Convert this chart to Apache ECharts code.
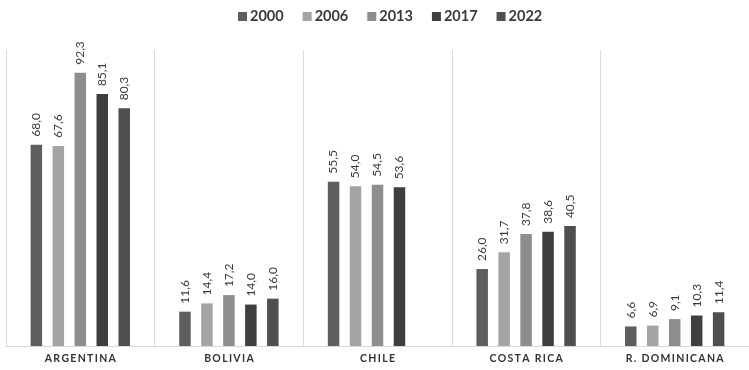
<!DOCTYPE html>
<html>
<head>
<meta charset="utf-8">
<script src="https://cdn.jsdelivr.net/npm/echarts@6/dist/echarts.min.js"></script>
<style>
  html, body { margin: 0; padding: 0; background: #ffffff; }
  #chart { width: 749px; height: 370px; }
</style>
</head>
<body>
<div id="chart"></div>
<script>
// Countries on the category axis
const countries = ['ARGENTINA', 'BOLIVIA', 'CHILE', 'COSTA RICA', 'R. DOMINICANA'];

// Years shown in the legend
const years = ['2000', '2006', '2013', '2017', '2022'];

// Values per year, one entry per country (null = no data)
const v2000 = [68.0, 11.6, 55.5, 26.0, 6.6];
const v2006 = [67.6, 14.4, 54.0, 31.7, 6.9];
const v2013 = [92.3, 17.2, 54.5, 37.8, 9.1];
const v2017 = [85.1, 14.0, 53.6, 38.6, 10.3];
const v2022 = [80.3, 16.0, null, 40.5, 11.4];

const seriesValues = [v2000, v2006, v2013, v2017, v2022];
const seriesColors = ['#5e5e5e', '#a4a4a4', '#8e8e8e', '#3e3e3e', '#4f4f4f'];

const fontFamily = 'Lato, "Open Sans", "DejaVu Sans", sans-serif';

// Spread capital letters apart for the axis labels
const spaced = s => s.split('').join('\u2009');

const chart = echarts.init(document.getElementById('chart'));

chart.setOption({
  animation: false,
  textStyle: { fontFamily: fontFamily },
  legend: {
    top: 4,
    left: 233,
    itemWidth: 9,
    itemHeight: 9,
    itemGap: 19,
    icon: 'rect',
    textStyle: {
      fontSize: 14.5,
      fontWeight: 'bold',
      color: '#3a3a3a',
      fontFamily: fontFamily,
      padding: [0, 0, 0, -2]
    },
    data: years
  },
  grid: {
    left: 6,
    top: 50,
    width: 752,
    bottom: 24,
    containLabel: false
  },
  xAxis: {
    type: 'category',
    data: countries,
    axisLine: { show: true, lineStyle: { color: '#d9d9d9', width: 1 } },
    axisTick: { show: false },
    splitLine: { show: true, lineStyle: { color: '#d9d9d9', width: 1 } },
    axisLabel: {
      margin: 7,
      fontSize: 10.5,
      fontWeight: 'bold',
      color: '#333333',
      fontFamily: fontFamily,
      formatter: spaced
    }
  },
  yAxis: {
    type: 'value',
    min: 0,
    max: 100,
    show: false,
    splitLine: { show: false }
  },
  series: years.map((y, i) => ({
    name: y,
    type: 'bar',
    data: seriesValues[i],
    barWidth: 11.5,
    barGap: '91%',
    itemStyle: { color: seriesColors[i] },
    label: {
      show: true,
      position: 'top',
      rotate: 90,
      align: 'left',
      verticalAlign: 'middle',
      distance: 8,
      fontSize: 12,
      color: '#3a3a3a',
      fontFamily: fontFamily,
      formatter: p => p.value == null ? '' : p.value.toFixed(1).replace('.', ',')
    }
  }))
});
</script>
</body>
</html>
